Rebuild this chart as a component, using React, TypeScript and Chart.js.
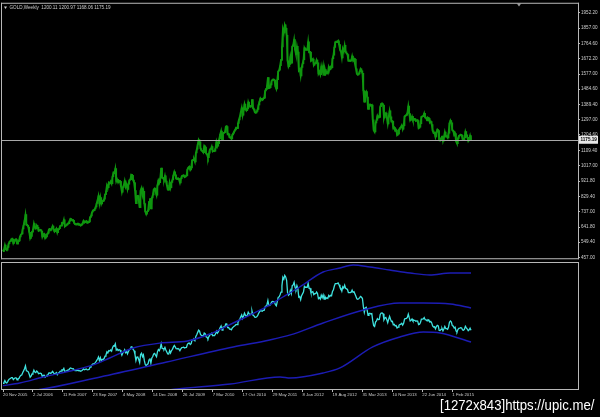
import React, { useEffect, useRef } from 'react';
import { Chart, registerables } from 'chart.js';
Chart.register(...registerables);

// ---------- header ----------
const symbolTitle = 'GOLD,Weekly';
const lastBar = [1200.11, 1200.97, 1168.06, 1175.19]; // open high low close

// ---------- weekly closes (week bars starting Sunday, from 20 Nov 2005) ----------
const c2005 = [495, 504, 531, 505, 500, 517];
const c2006 = [540, 553, 556, 568, 568, 542, 555, 565, 565, 540, 553, 557, 582, 596, 600, 630, 654, 681, 718, 655, 652, 642, 610, 572, 585, 614, 628, 663, 640, 632, 652, 640, 618, 622, 625, 617, 582, 598, 599, 574, 584, 598, 604, 627, 627, 622, 634, 648, 628, 613, 622, 632, 607];
const c2007 = [626, 631, 648, 650, 667, 665, 686, 645, 652, 654, 663, 663, 678, 692, 688, 681, 683, 666, 658, 656, 658, 663, 655, 656, 650, 656, 666, 680, 668, 673, 678, 667, 669, 673, 703, 710, 732, 743, 742, 753, 765, 786, 806, 832, 785, 822, 783, 800, 800, 812, 842, 858];
const c2008 = [897, 882, 914, 908, 921, 907, 950, 975, 971, 999, 920, 933, 914, 925, 921, 888, 855, 884, 898, 924, 887, 902, 872, 904, 928, 932, 962, 958, 928, 913, 865, 785, 830, 832, 800, 760, 865, 880, 835, 860, 785, 735, 720, 736, 745, 796, 815, 752, 820, 838, 872, 878];
const c2009 = [855, 836, 898, 927, 913, 942, 1002, 942, 940, 930, 955, 922, 897, 870, 869, 913, 883, 915, 930, 958, 979, 961, 937, 935, 940, 931, 912, 937, 953, 954, 957, 947, 953, 955, 995, 1006, 1011, 991, 1003, 1050, 1051, 1056, 1040, 1095, 1117, 1147, 1175, 1162, 1121, 1108, 1105, 1097];
const c2010 = [1138, 1130, 1090, 1084, 1065, 1093, 1117, 1118, 1134, 1103, 1107, 1105, 1125, 1162, 1136, 1152, 1180, 1209, 1229, 1176, 1214, 1218, 1220, 1256, 1256, 1208, 1210, 1189, 1188, 1181, 1205, 1215, 1227, 1236, 1249, 1246, 1275, 1297, 1318, 1346, 1371, 1325, 1357, 1393, 1366, 1353, 1363, 1405, 1385, 1376, 1379, 1421];
const c2011 = [1369, 1360, 1343, 1340, 1348, 1361, 1388, 1409, 1429, 1421, 1418, 1429, 1429, 1474, 1486, 1504, 1556, 1491, 1493, 1511, 1536, 1542, 1541, 1539, 1501, 1486, 1542, 1594, 1601, 1628, 1663, 1742, 1852, 1828, 1877, 1857, 1814, 1657, 1622, 1635, 1683, 1643, 1745, 1755, 1788, 1725, 1697, 1746, 1711, 1598, 1606, 1565];
const c2012 = [1617, 1640, 1664, 1737, 1725, 1725, 1725, 1774, 1710, 1711, 1657, 1662, 1669, 1631, 1642, 1642, 1663, 1645, 1579, 1592, 1573, 1622, 1591, 1627, 1572, 1604, 1579, 1590, 1582, 1621, 1604, 1621, 1616, 1671, 1692, 1740, 1772, 1772, 1772, 1780, 1757, 1724, 1712, 1676, 1731, 1714, 1752, 1712, 1704, 1696, 1657, 1657, 1656];
const c2013 = [1662, 1687, 1659, 1667, 1667, 1609, 1578, 1572, 1577, 1592, 1608, 1596, 1581, 1476, 1405, 1462, 1470, 1436, 1364, 1386, 1392, 1383, 1387, 1297, 1234, 1223, 1278, 1295, 1322, 1310, 1312, 1377, 1395, 1396, 1387, 1308, 1332, 1338, 1310, 1272, 1315, 1352, 1315, 1286, 1288, 1244, 1250, 1230, 1235, 1204, 1213, 1237];
const c2014 = [1247, 1252, 1264, 1240, 1262, 1318, 1323, 1326, 1339, 1381, 1335, 1294, 1303, 1318, 1294, 1300, 1301, 1290, 1293, 1292, 1246, 1252, 1274, 1316, 1316, 1320, 1337, 1310, 1307, 1294, 1310, 1305, 1280, 1287, 1268, 1230, 1216, 1218, 1192, 1222, 1238, 1231, 1171, 1169, 1185, 1198, 1167, 1191, 1222, 1195, 1195, 1187];
const c2015 = [1216, 1277, 1293, 1279, 1234, 1228, 1204, 1213, 1165, 1152, 1184, 1199, 1201, 1207, 1203, 1178, 1175, 1188, 1225, 1205, 1190, 1168, 1180, 1201, 1175];

// ---------- price axis labels ----------
const priceTicks = [1952.2, 1857.0, 1764.6, 1672.2, 1577.0, 1484.6, 1389.4, 1297.0, 1204.6, 1109.4, 1017.0, 921.8, 829.4, 737.0, 641.8, 549.4, 457.0];

// ---------- time axis labels (week index, label) ----------
const dateTickWeeks = [0, 32, 64, 96, 128, 160, 192, 224, 256, 288, 320, 352, 384, 416, 448, 480];
const dateLabels = ['20 Nov 2005', '2 Jul 2006', '11 Feb 2007', '23 Sep 2007', '4 May 2008', '14 Dec 2008', '26 Jul 2009', '7 Mar 2010', '17 Oct 2010', '29 May 2011', '8 Jan 2012', '19 Aug 2012', '31 Mar 2013', '10 Nov 2013', '22 Jun 2014', '1 Feb 2015'];

// ---------- indicator bands (week index, value) ----------
const upperWeeks = [0, 18, 43, 72, 93, 114, 139, 168, 197, 221, 246, 275, 299, 317, 342, 360, 374, 392, 413, 435, 456, 478, 500];
const upperValues = [465, 499, 576, 653, 717, 819, 947, 1011, 1037, 1126, 1267, 1434, 1600, 1728, 1920, 1971, 2010, 1984, 1946, 1907, 1882, 1907, 1907];
const middleWeeks = [0, 36, 104, 175, 246, 285, 307, 342, 385, 424, 449, 478, 500];
const middleValues = [380, 410, 576, 768, 960, 1050, 1114, 1267, 1434, 1523, 1523, 1510, 1459];
const lowerWeeks = [125, 186, 243, 296, 307, 342, 360, 395, 424, 449, 467, 500];
const lowerValues = [333, 422, 486, 576, 563, 627, 691, 960, 1088, 1152, 1139, 1024];

const closes = [...c2005, ...c2006, ...c2007, ...c2008, ...c2009, ...c2010, ...c2011, ...c2012, ...c2013, ...c2014, ...c2015];

const FONT = "'Liberation Sans', Arial, sans-serif";
const TEXT = '#cfcfcf';
const FRAME = '#b8b8b8';
const GREEN = '#0f960f';
const X_MIN = -1.07;
const X_MAX = 614.3;

export default function App() {
  const topRef = useRef<HTMLCanvasElement>(null);
  const botRef = useRef<HTMLCanvasElement>(null);

  useEffect(() => {
    const closePts = closes.map((c, i) => ({ x: i, y: c }));
    const rangePts = closes.map((c, i) => {
      const p = i > 0 ? closes[i - 1] : c;
      return { x: i, y: [Math.min(p, c), Math.max(p, c)] };
    });

    const topPlugin = {
      id: 'topDecor',
      afterDatasetsDraw(chart: any) {
        const { ctx, chartArea: a } = chart;
        const y = Math.round(chart.scales.y.getPixelForValue(lastBar[3])) + 0.5;
        ctx.save();
        ctx.strokeStyle = '#a8a8a8';
        ctx.lineWidth = 1;
        ctx.beginPath();
        ctx.moveTo(a.left, y);
        ctx.lineTo(a.right, y);
        ctx.stroke();
        ctx.restore();
      },
      afterDraw(chart: any) {
        const { ctx, chartArea: a } = chart;
        ctx.save();
        ctx.fillStyle = FRAME;
        ctx.fillRect(a.left - 1, a.top - 1, a.right - a.left + 2, 1);
        ctx.fillRect(a.left - 1, a.bottom, a.right - a.left + 2, 1);
        ctx.fillRect(a.left - 1, a.top - 1, 1, a.bottom - a.top + 2);
        ctx.fillRect(a.right, a.top - 1, 1, a.bottom - a.top + 2);
        // price label box
        const y = chart.scales.y.getPixelForValue(lastBar[3]);
        ctx.fillStyle = '#e8e8e8';
        ctx.fillRect(a.right + 1, y - 4, 19, 8);
        ctx.fillStyle = '#000';
        ctx.font = `bold 4.6px ${FONT}`;
        ctx.textBaseline = 'middle';
        ctx.textAlign = 'left';
        ctx.fillText(lastBar[3].toFixed(2), a.right + 2.5, y + 0.3);
        // header
        ctx.fillStyle = TEXT;
        ctx.beginPath();
        ctx.moveTo(4, 6.5);
        ctx.lineTo(7, 6.5);
        ctx.lineTo(5.5, 9);
        ctx.closePath();
        ctx.fill();
        ctx.font = `4.6px ${FONT}`;
        ctx.fillText(`${symbolTitle}  ${lastBar.map((v) => v.toFixed(2)).join(' ')}`, 9.5, 8);
        // chart shift marker
        ctx.fillStyle = '#9a9a9a';
        ctx.beginPath();
        ctx.moveTo(516.5, 3);
        ctx.lineTo(521.5, 3);
        ctx.lineTo(519, 6.5);
        ctx.closePath();
        ctx.fill();
        ctx.restore();
      },
    };

    const top = new Chart(topRef.current as HTMLCanvasElement, {
      type: 'bar',
      data: {
        datasets: [
          {
            type: 'bar',
            data: rangePts as any,
            backgroundColor: GREEN,
            borderWidth: 0,
            barPercentage: 1,
            categoryPercentage: 1,
            minBarLength: 1,
          },
          {
            type: 'line',
            data: closePts as any,
            borderColor: GREEN,
            borderWidth: 1.7,
            pointRadius: 0,
            tension: 0,
          },
        ],
      },
      options: {
        animation: false,
        responsive: false,
        events: [],
        layout: { padding: { left: 2, right: 0, top: 3, bottom: 1 } },
        plugins: { legend: { display: false }, tooltip: { enabled: false } },
        scales: {
          x: { type: 'linear', display: false, min: X_MIN, max: X_MAX, offset: false },
          y: {
            type: 'linear',
            position: 'right',
            min: 451,
            max: 2006.5,
            afterFit: (s: any) => { s.width = 22; },
            afterBuildTicks: (s: any) => { s.ticks = priceTicks.map((v) => ({ value: v })); },
            ticks: {
              autoSkip: false,
              padding: 1,
              color: TEXT,
              font: { size: 4.6, family: FONT },
              callback: (v: any) => Number(v).toFixed(2),
            },
            grid: { drawOnChartArea: false, drawTicks: true, tickLength: 2, color: FRAME },
            border: { display: false },
          },
        },
      },
      plugins: [topPlugin],
    });

    const botPlugin = {
      id: 'botFrame',
      afterDraw(chart: any) {
        const { ctx, chartArea: a } = chart;
        ctx.save();
        ctx.fillStyle = FRAME;
        ctx.fillRect(a.left - 1, a.top, a.right - a.left + 2, 1);
        ctx.fillRect(a.left - 1, a.bottom, a.right - a.left + 2, 1);
        ctx.fillRect(a.left - 1, a.top, 1, a.bottom - a.top + 1);
        ctx.fillRect(a.right, a.top, 1, a.bottom - a.top + 1);
        ctx.restore();
      },
    };

    const BLUE = '#1c1cb4';
    const band = (w: number[], v: number[]) => w.map((x, i) => ({ x, y: v[i] }));
    const bot = new Chart(botRef.current as HTMLCanvasElement, {
      type: 'line',
      data: {
        datasets: [
          { data: band(upperWeeks, upperValues) as any, borderColor: BLUE, borderWidth: 1.4, pointRadius: 0, cubicInterpolationMode: 'monotone' },
          { data: band(middleWeeks, middleValues) as any, borderColor: BLUE, borderWidth: 1.4, pointRadius: 0, cubicInterpolationMode: 'monotone' },
          { data: band(lowerWeeks, lowerValues) as any, borderColor: BLUE, borderWidth: 1.4, pointRadius: 0, cubicInterpolationMode: 'monotone' },
          { data: closePts as any, borderColor: '#3fe3e0', borderWidth: 1.3, pointRadius: 0, tension: 0 },
        ],
      },
      options: {
        animation: false,
        responsive: false,
        events: [],
        layout: { padding: { left: 2, right: 0, top: 1, bottom: 18 } },
        plugins: { legend: { display: false }, tooltip: { enabled: false } },
        scales: {
          x: {
            type: 'linear',
            min: X_MIN,
            max: X_MAX,
            offset: false,
            afterFit: (s: any) => { s.height = 10; },
            afterBuildTicks: (s: any) => { s.ticks = dateTickWeeks.map((v) => ({ value: v })); },
            ticks: {
              autoSkip: false,
              maxRotation: 0,
              align: 'start',
              padding: 0,
              color: TEXT,
              font: { size: 4.3, family: FONT },
              callback: (v: any) => dateLabels[dateTickWeeks.indexOf(Number(v))] ?? '',
            },
            grid: { drawOnChartArea: false, drawTicks: true, tickLength: 3, color: FRAME },
            border: { display: false },
          },
          y: {
            type: 'linear',
            position: 'right',
            min: 422,
            max: 2048,
            afterFit: (s: any) => { s.width = 22; },
            ticks: { display: false },
            grid: { display: false },
            border: { display: false },
          },
        },
      },
      plugins: [botPlugin],
    });

    return () => {
      top.destroy();
      bot.destroy();
    };
  }, []);

  return (
    <div style={{ position: 'fixed', left: 0, top: 0, width: 600, height: 417, background: '#000', overflow: 'hidden' }}>
      <canvas ref={topRef} width={600} height={262} style={{ position: 'absolute', left: 0, top: 0, display: 'block' }} />
      <canvas ref={botRef} width={600} height={156} style={{ position: 'absolute', left: 0, top: 261, display: 'block' }} />
      <div
        style={{
          position: 'absolute',
          left: 440,
          top: 397,
          color: '#ffffff',
          font: `14px ${FONT}`,
          lineHeight: '16px',
          whiteSpace: 'nowrap',
          transform: 'scaleX(0.94)',
          transformOrigin: 'left top',
        }}
      >
        [1272x843]https://upic.me/
      </div>
    </div>
  );
}
